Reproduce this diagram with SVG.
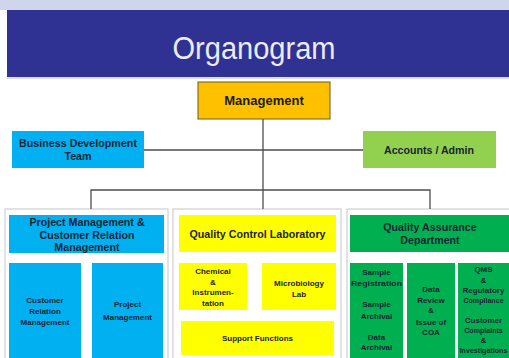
<svg xmlns="http://www.w3.org/2000/svg" width="509" height="358" viewBox="0 0 509 358">
  <style>
    text { font-family: "Liberation Sans", Arial, sans-serif; font-weight: bold; text-anchor: middle; fill: #1c2333; }
    .title { font-weight: normal; font-size: 31px; fill: #ecebf6; }
    .lg { font-size: 13px; fill: #1a1a1a; }
    .md { font-size: 10.7px; }
    .sm { font-size: 8px; }
    .xs { font-size: 7.1px; }
    .panel { fill: #ffffff; stroke: #cfcfd4; stroke-width: 1.2; }
    .line { stroke: #4d4d4d; stroke-width: 1.3; fill: none; }
  </style>

  <!-- title banner -->
  <rect x="0" y="0" width="509" height="358" fill="#ffffff"/>
  <rect x="0" y="0" width="509" height="10" fill="#cfd6ec"/>
  <rect x="7" y="10" width="502" height="68" fill="#2f3293"/>
  <rect x="7" y="77" width="502" height="2" fill="#d9dcef"/>
  <text class="title" x="254" y="59" textLength="163" lengthAdjust="spacingAndGlyphs">Organogram</text>

  <!-- department panels -->
  <rect class="panel" x="5" y="209" width="163" height="155"/>
  <rect class="panel" x="173" y="209" width="168" height="155"/>
  <rect class="panel" x="347" y="209" width="168" height="155"/>

  <g id="connectors">
    <line class="line" x1="263" y1="119" x2="263" y2="209"/>
    <line class="line" x1="144" y1="150" x2="363" y2="150"/>
    <polyline class="line" points="91,209 91,190 430,190 430,209"/>
  </g>

  <g id="management">
    <rect x="198" y="82" width="132" height="37" fill="#ffc000" stroke="#6b5a1e" stroke-width="1"/>
    <text class="lg" x="264" y="105">Management</text>
  </g>

  <g id="business-development">
    <rect x="12" y="131" width="132" height="37" fill="#00b0f0"/>
    <text class="md" x="78" y="147" textLength="118" lengthAdjust="spacingAndGlyphs">Business Development</text>
    <text class="md" x="78" y="160">Team</text>
  </g>

  <g id="accounts-admin">
    <rect x="363" y="131" width="133" height="37" fill="#92d050"/>
    <text class="md" x="429" y="154" textLength="90" lengthAdjust="spacingAndGlyphs">Accounts / Admin</text>
  </g>

  <!-- project management & customer relation -->
  <g id="pm-crm">
    <rect x="9" y="215" width="155" height="38" fill="#00b0f0"/>
    <text class="md" x="87" y="226">Project Management &amp;</text>
    <text class="md" x="87" y="238.5">Customer Relation</text>
    <text class="md" x="87" y="251">Management</text>
  </g>
  <g id="customer-relation">
    <rect x="9" y="263" width="72" height="100" fill="#00b0f0"/>
    <text class="sm" x="45" y="303">Customer</text>
    <text class="sm" x="45" y="314">Relation</text>
    <text class="sm" x="45" y="325">Management</text>
  </g>
  <g id="project-management">
    <rect x="92" y="263" width="71" height="100" fill="#00b0f0"/>
    <text class="sm" x="127.5" y="307">Project</text>
    <text class="sm" x="127.5" y="320">Management</text>
  </g>

  <!-- quality control laboratory -->
  <g id="qc-lab">
    <rect x="179" y="215" width="157" height="37" fill="#ffff00"/>
    <text class="md" x="257.5" y="238">Quality Control Laboratory</text>
  </g>
  <g id="chemical">
    <rect x="179" y="263" width="68" height="47" fill="#ffff00"/>
    <text class="sm" x="213" y="274">Chemical</text>
    <text class="sm" x="213" y="284.5">&amp;</text>
    <text class="sm" x="213" y="295">Instrumen-</text>
    <text class="sm" x="213" y="306">tation</text>
  </g>
  <g id="microbiology">
    <rect x="262" y="263" width="74" height="47" fill="#ffff00"/>
    <text class="sm" x="299" y="286">Microbiology</text>
    <text class="sm" x="299" y="296.5">Lab</text>
  </g>
  <g id="support-functions">
    <rect x="181" y="321" width="153" height="34" fill="#ffff00"/>
    <text class="sm" x="257.5" y="341">Support Functions</text>
  </g>

  <!-- quality assurance department -->
  <g id="qa-dept">
    <rect x="350" y="215" width="165" height="37" fill="#00b050"/>
    <text class="md" x="430" y="231">Quality Assurance</text>
    <text class="md" x="430" y="244">Department</text>
  </g>
  <g id="sample-registration">
    <rect x="350" y="263" width="53" height="100" fill="#00b050"/>
    <text class="sm" x="376.5" y="275">Sample</text>
    <text class="sm" x="376.5" y="286" textLength="51" lengthAdjust="spacingAndGlyphs">Registration</text>
    <text class="sm" x="376.5" y="307">Sample</text>
    <text class="sm" x="376.5" y="319">Archival</text>
    <text class="sm" x="376.5" y="340">Data</text>
    <text class="sm" x="376.5" y="350">Archival</text>
  </g>
  <g id="data-review">
    <rect x="407" y="263" width="48" height="100" fill="#00b050"/>
    <text class="sm" x="431" y="292">Data</text>
    <text class="sm" x="431" y="302.5">Review</text>
    <text class="sm" x="431" y="313">&amp;</text>
    <text class="sm" x="431" y="324.5">Issue of</text>
    <text class="sm" x="431" y="335">COA</text>
  </g>
  <g id="qms">
    <rect x="458" y="263" width="55" height="100" fill="#00b050"/>
    <text class="sm" x="483.5" y="272">QMS</text>
    <text class="sm" x="483.5" y="282.5">&amp;</text>
    <text class="sm" x="483.5" y="292.5">Regulatory</text>
    <text class="xs" x="483.5" y="302.5">Compliance</text>
    <text class="sm" x="483.5" y="323">Customer</text>
    <text class="xs" x="483.5" y="333">Complaints</text>
    <text class="sm" x="483.5" y="343">&amp;</text>
    <text class="xs" x="483.5" y="353">Investigations</text>
  </g>
</svg>
